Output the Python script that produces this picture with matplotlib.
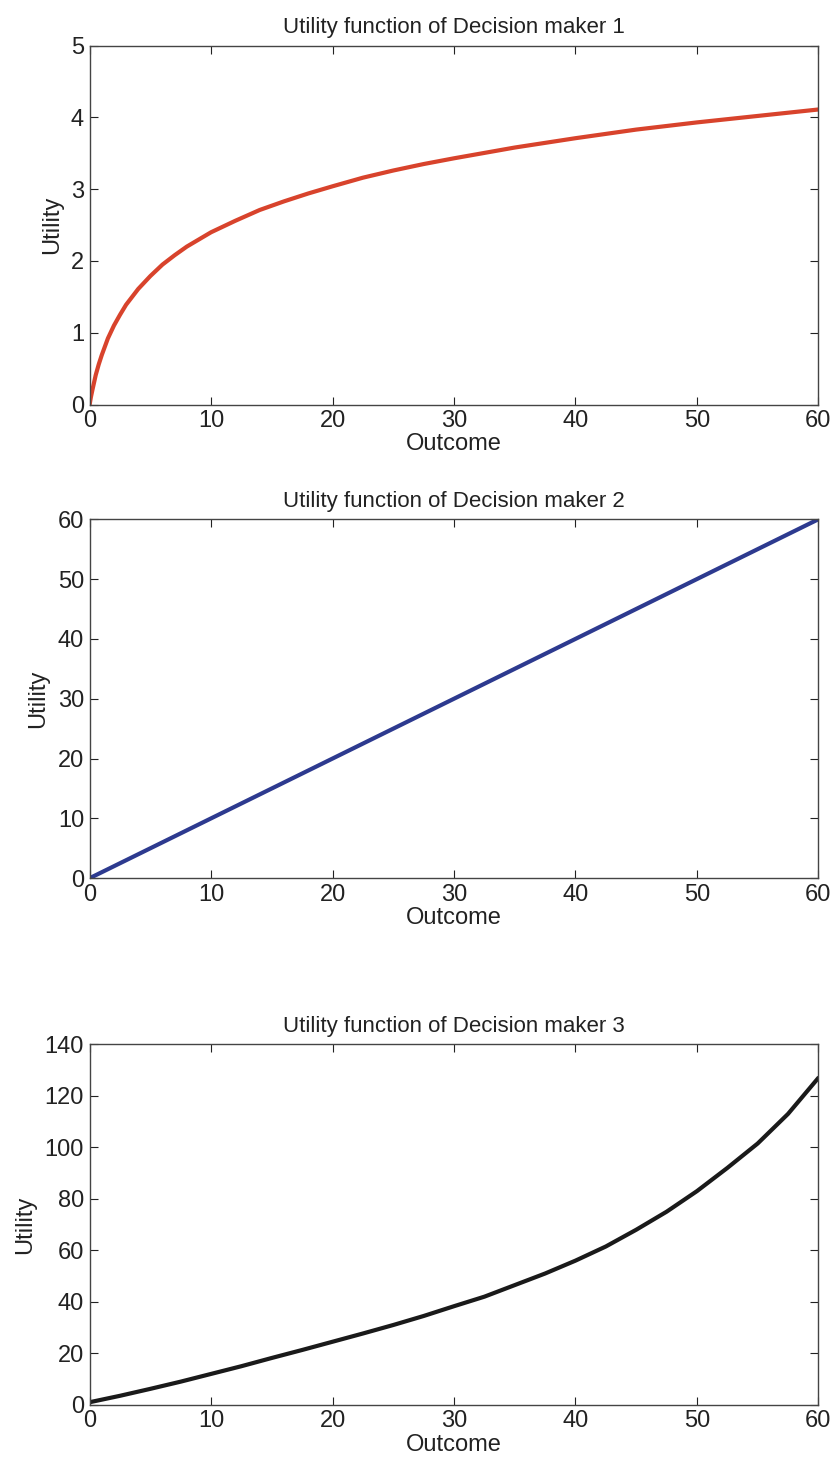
import matplotlib
matplotlib.use("Agg")
import matplotlib.pyplot as plt

# data
x1 = [0, 0.1, 0.25, 0.5, 0.75, 1, 1.5, 2, 2.5, 3, 4, 5, 6, 7, 8, 9, 10, 11, 12, 14, 16,
      18, 20, 22.5, 25, 27.5, 30, 35, 40, 45, 50, 55, 60]
u1 = [0, 0.10, 0.22, 0.41, 0.56, 0.69, 0.92, 1.10, 1.25, 1.39, 1.61, 1.79, 1.95, 2.08,
      2.20, 2.30, 2.40, 2.48, 2.56, 2.71, 2.83, 2.94, 3.04, 3.16, 3.26, 3.35, 3.43,
      3.58, 3.71, 3.83, 3.93, 4.02, 4.11]

x2 = [0, 10, 20, 30, 40, 50, 60]
u2 = [0, 10, 20, 30, 40, 50, 60]

x3 = [0, 2.5, 5, 7.5, 10, 12.5, 15, 17.5, 20, 22.5, 25, 27.5, 30, 32.5, 35, 37.5, 40,
      42.5, 45, 47.5, 50, 52.5, 55, 57.5, 60]
u3 = [1, 3.5, 6.2, 9, 12, 15, 18.2, 21.3, 24.5, 27.7, 31, 34.5, 38.3, 42, 46.5, 51, 56,
      61.5, 68, 75, 83, 92, 101.5, 113, 127]

titles = ["Utility function of Decision maker 1",
          "Utility function of Decision maker 2",
          "Utility function of Decision maker 3"]
ylims = [(0, 5), (0, 60), (0, 140)]
yticks = [[0, 1, 2, 3, 4, 5], [0, 10, 20, 30, 40, 50, 60], [0, 20, 40, 60, 80, 100, 120, 140]]
colors = ["#d8432c", "#2d3a8f", "#1a1a1a"]

plt.rcParams['font.family'] = ['Liberation Sans', 'DejaVu Sans']


def main():
    fig = plt.figure(figsize=(8.3, 14.71), dpi=100)
    boxes = [(0.108, 0.725, 0.878, 0.244),
             (0.108, 0.403, 0.878, 0.244),
             (0.108, 0.045, 0.878, 0.245)]
    series = [(x1, u1), (x2, u2), (x3, u3)]

    for i in range(3):
        ax = fig.add_axes(boxes[i])
        xs, ys = series[i]
        ax.plot(xs, ys, color=colors[i], linewidth=3.0, solid_capstyle='round')
        ax.set_xlim(0, 60)
        ax.set_ylim(*ylims[i])
        ax.set_xticks([0, 10, 20, 30, 40, 50, 60])
        ax.set_yticks(yticks[i])
        ax.tick_params(direction='in', length=6, top=True, right=True,
                       labelsize=17, colors='#222222', pad=4)
        for s in ax.spines.values():
            s.set_color('#444444')
            s.set_linewidth(1.0)
        ax.set_title(titles[i], fontsize=16, pad=9, color='#222222')
        ax.set_xlabel('Outcome', fontsize=17, labelpad=1, color='#222222')
        ax.set_ylabel('Utility', fontsize=17, labelpad=6, color='#222222')

    fig.savefig('out.png', dpi=100)


if __name__ == "__main__":
    main()
